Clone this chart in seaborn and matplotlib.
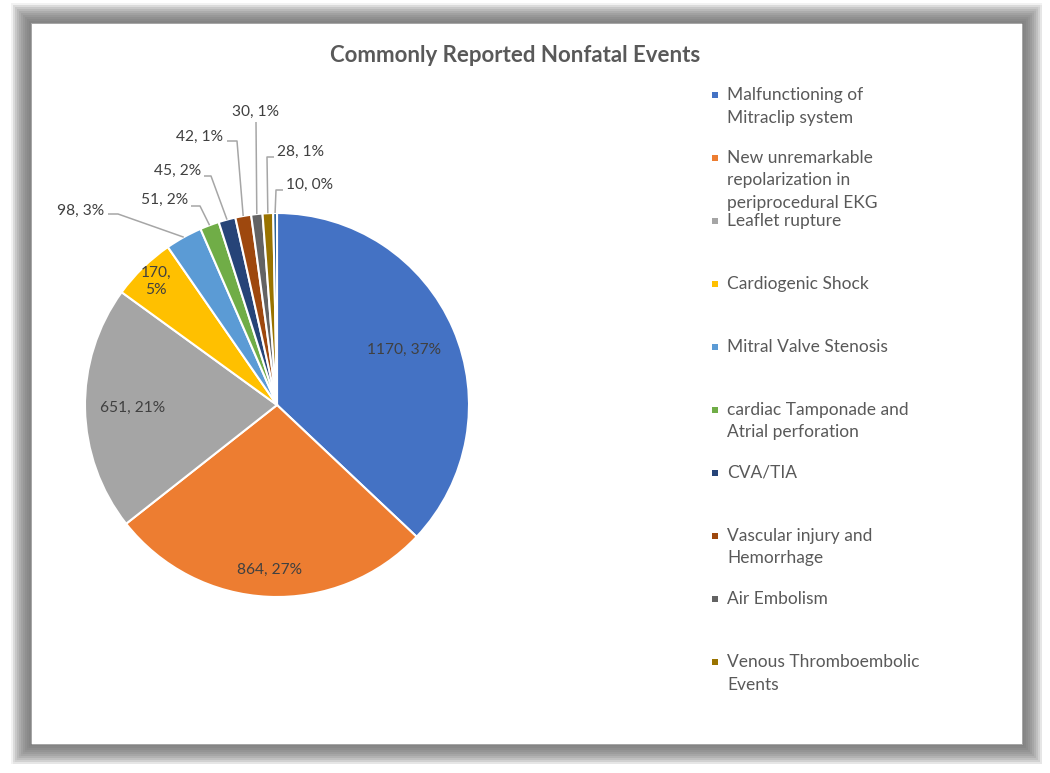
import matplotlib
matplotlib.use("Agg")
import numpy as np
import matplotlib.pyplot as plt
from matplotlib.patches import Rectangle
import seaborn as sns

# data
chart_title = "Commonly Reported Nonfatal Events"
legend_labels = [
    "Malfunctioning of\nMitraclip system",
    "New unremarkable\nrepolarization in\nperiprocedural EKG",
    "Leaflet rupture",
    "Cardiogenic Shock",
    "Mitral Valve Stenosis",
    "cardiac Tamponade and\nAtrial perforation",
    "CVA/TIA",
    "Vascular injury and\nHemorrhage",
    "Air Embolism",
    "Venous Thromboembolic\nEvents",
]
counts = [1170, 864, 651, 170, 98, 51, 45, 42, 30, 28, 10]
pct_labels = ["37%", "27%", "21%", "5%", "3%", "2%", "2%", "1%", "1%", "1%", "0%"]
slice_colors = ["#4472C4", "#ED7D31", "#A5A5A5", "#FFC000", "#5B9BD5", "#70AD47",
                "#264478", "#9E480E", "#636363", "#997300", "#255E91"]

sns.set_theme(style="white")
plt.rcParams['font.family'] = ['Lato', 'DejaVu Sans']

W, H = 1050, 773
TXT = "#595959"
LBL = "#404040"
PT = 0.72  # points per pixel at dpi 100
fig = plt.figure(figsize=(W / 100, H / 100), dpi=100)
ax = fig.add_axes([0, 0, 1, 1])

# pie, in pixel units (y measured up from bottom)
cx, cy, R = 277, H - 405, 192
wedges, _ = ax.pie(counts, colors=slice_colors, startangle=90, counterclock=False,
                   center=(cx, cy), radius=R,
                   wedgeprops=dict(edgecolor="white", linewidth=1.5))
ax.set_xlim(0, W)
ax.set_ylim(0, H)
ax.set_aspect("auto")
ax.axis("off")


def mid_point(w, r):
    a = np.deg2rad((w.theta1 + w.theta2) / 2)
    return cx + r * np.cos(a), cy + r * np.sin(a)


# labels inside the big slices
inner_r = [0.72, 0.86, 0.75, 0.9]
for i, rf in enumerate(inner_r):
    x, y = mid_point(wedges[i], R * rf)
    sep = ",\n" if i == 3 else ", "
    ax.text(x, y, f"{counts[i]}{sep}{pct_labels[i]}", ha="center", va="center",
            fontsize=11.2, color=LBL, linespacing=1.35)

# outer labels with leader lines: text (x, y from top, ha), leader elbow points
outer = {
    4: ((104, 211, "right"), [(108, 214), (118, 214)]),
    5: ((188, 200, "right"), [(191, 206), (200, 206)]),
    6: ((201, 171, "right"), [(204, 176), (211, 176)]),
    7: ((223, 137, "right"), [(227, 141), (237, 141)]),
    8: ((256, 112, "center"), [(256, 122)]),
    9: ((277, 152, "left"), [(274, 157), (267, 157)]),
    10: ((286, 185, "left"), [(283, 190), (276, 190)]),
}
for i, ((tx, ty, ha), pts) in outer.items():
    ax.text(tx, H - ty, f"{counts[i]}, {pct_labels[i]}", ha=ha, va="center",
            fontsize=11.2, color=LBL)
    wx, wy = mid_point(wedges[i], R)
    xs = [p[0] for p in pts] + [wx]
    ys = [H - p[1] for p in pts] + [wy]
    ax.plot(xs, ys, color="#A6A6A6", lw=1.1, solid_capstyle="butt")

# title
ax.text(515, H - 55, chart_title, ha="center", va="center", fontsize=16,
        fontweight="bold", color=TXT)

# legend (Excel style, fixed slots)
for i, lab in enumerate(legend_labels):
    y0 = 95 + i * 63.0
    ax.add_patch(Rectangle((712, H - y0 - 3), 6, 6, facecolor=slice_colors[i],
                           edgecolor="none"))
    ax.text(727, H - y0 + 8, lab, ha="left", va="top", fontsize=12.5,
            color=TXT, linespacing=1.5)

# frame: sharp inner edge, soft gray fading outward
x0, x1, y0, y1 = 30, 1021, 22, 743
for w in range(1, 21):
    ax.add_patch(Rectangle((x0 - w / 2 + 1, H - y1 - w / 2 - 1),
                           (x1 - x0) + w, (y1 - y0) + w, fill=False,
                           edgecolor="#707070", alpha=0.085,
                           lw=w * PT, joinstyle="miter"))

fig.savefig("out.png", dpi=100, facecolor="white")
